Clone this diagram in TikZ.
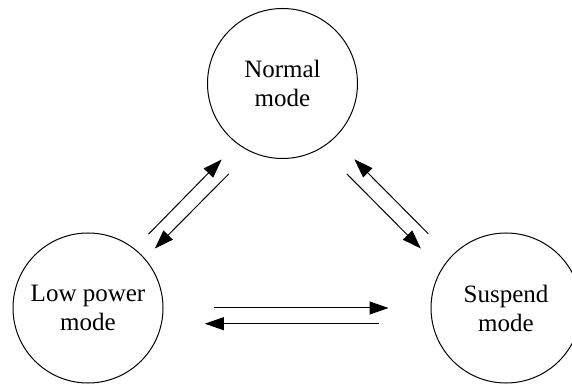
\documentclass[tikz,border=0pt]{standalone}
\usepackage{fontspec}
\setmainfont{Liberation Serif}
\usetikzlibrary{shapes,arrows,arrows.meta}
\tikzstyle{line} = [draw, line width=1pt, -{Triangle[length=19pt,width=13pt]}]
\tikzstyle{mode} = [circle, draw, line width=1pt, minimum size=150pt, inner sep=0pt, align=center, node distance=418pt, font=\fontsize{25}{29}\selectfont]

\begin{document}
\begin{tikzpicture}
		\useasboundingbox (0,0) rectangle (572pt,385pt);
		\node [mode] (low) at (88pt,77pt) {Low power\\mode};
		\node [mode, right of = low] (suspend) {Suspend\\mode};
		\node [mode, above of = low, node distance = 224.5pt, xshift = 194.5pt] (normal) {Normal\\mode};
		
		
		\path [line, shorten <=20pt, shorten >=22pt] (low.52) to (normal.233);
		\path [line, shorten <=31pt, shorten >=14pt] (normal.245) to (low.41);
		
		
		\path [line, shorten <=32pt, shorten >=29pt] (suspend.137) to (normal.313);
		\path [line, shorten <=36pt, shorten >=29pt] (normal.301) to (suspend.149);
		
		
		\path [line, shorten <=50pt, shorten >=42pt] (low.east) to (suspend.west);
		\path [line, shorten <=53pt, shorten >=43pt] (suspend.192) to (low.348);
\end{tikzpicture}
\end{document}
